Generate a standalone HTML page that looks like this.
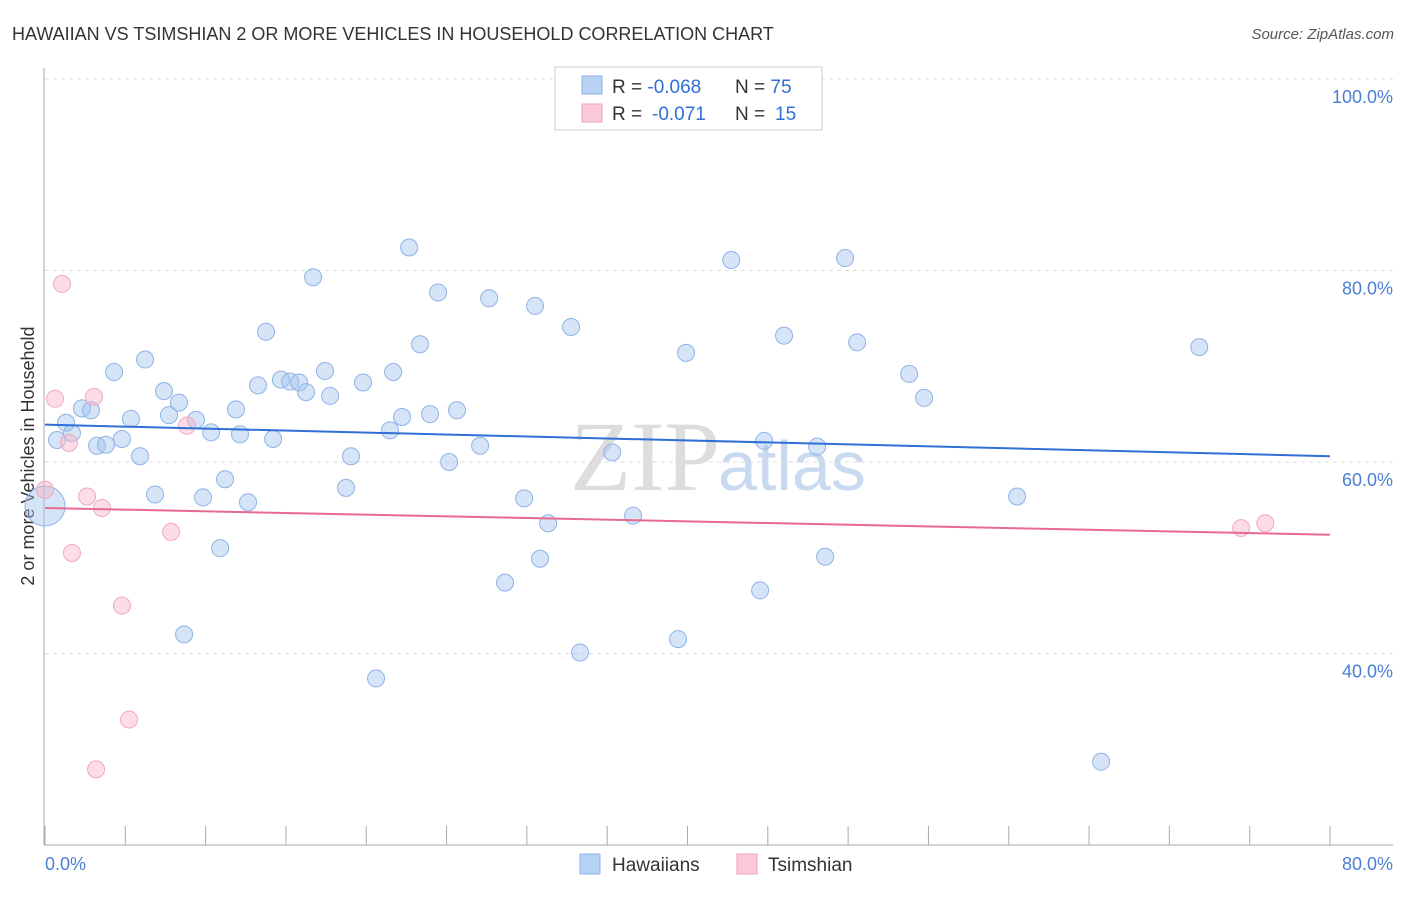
<!DOCTYPE html>
<html><head><meta charset="utf-8"><style>
body{margin:0;background:#fff;font-family:"Liberation Sans",sans-serif}
</style></head><body>
<svg width="1406" height="892" xmlns="http://www.w3.org/2000/svg" style="font-family:'Liberation Sans',sans-serif">
<text x="12" y="40" font-size="18" fill="#333">HAWAIIAN VS TSIMSHIAN 2 OR MORE VEHICLES IN HOUSEHOLD CORRELATION CHART</text>
<text x="1394" y="39" font-size="15" fill="#555" font-style="italic" text-anchor="end">Source: ZipAtlas.com</text>
<text x="720" y="490" font-size="100" fill="#ddd" text-anchor="end" font-family="'Liberation Serif',serif">ZIP</text>
<text x="718" y="490" font-size="70" fill="#c9d9f0">atlas</text>
<g id="grid"></g>
<line x1="44" y1="68" x2="44" y2="845" stroke="#aaa"/>
<line x1="44" y1="845" x2="1393" y2="845" stroke="#aaa"/>
<text transform="translate(34,456) rotate(-90)" font-size="18" fill="#333" text-anchor="middle">2 or more Vehicles in Household</text>
<g id="marks"></g>
<g>
<rect x="555" y="67" width="267" height="63" fill="#fff" stroke="#ccc"/>
<rect x="582" y="76" width="20" height="18" fill="#b8d2f5" stroke="#8fb3e6"/>
<rect x="582" y="104" width="20" height="18" fill="#fbcad8" stroke="#f0a0b8"/>
<text x="612" y="93" font-size="19" fill="#333">R = <tspan fill="#2f6fd6">-0.068</tspan><tspan x="735">N = </tspan><tspan fill="#2f6fd6">75</tspan></text>
<text x="612" y="120" font-size="19" fill="#333">R = <tspan x="652" fill="#2f6fd6">-0.071</tspan><tspan x="735">N = </tspan><tspan x="775" fill="#2f6fd6">15</tspan></text>
</g>
<g>
<rect x="580" y="854" width="20" height="20" fill="#b8d2f5" stroke="#8fb3e6"/>
<text x="612" y="871" font-size="19" fill="#333">Hawaiians</text>
<rect x="737" y="854" width="20" height="20" fill="#fbcad8" stroke="#f0a0b8"/>
<text x="768" y="871" font-size="19" fill="#333">Tsimshian</text>
</g>
</svg>
<script>
const yTicks=[40,60,80,100];
const xTickVals=[0,10,20,30,40,50,60,70,80];
const hawX=[0.75,1.31,1.68,2.30,2.86,3.24,3.80,4.30,4.79,5.35,5.92,6.23,6.85,7.41,7.72,8.34,8.66,9.40,9.84,10.34,10.90,11.21,11.89,12.14,12.64,13.26,13.76,14.20,14.69,15.26,15.82,16.25,16.69,17.43,17.75,18.74,19.05,19.80,20.61,21.48,21.67,22.23,22.67,23.35,23.97,24.47,25.16,25.65,27.09,27.65,28.64,29.83,30.51,30.82,31.32,32.75,33.31,35.31,36.61,39.41,39.91,42.72,44.52,44.77,46.01,48.07,48.57,49.81,50.56,53.80,54.73,60.52,65.75,71.86,0];
const hawY=[62.3,64.1,63.0,65.6,65.4,61.7,61.8,69.4,62.4,64.5,60.6,70.7,56.6,67.4,64.9,66.2,42.0,64.4,56.3,63.1,51.0,58.2,65.5,62.9,55.8,68.0,73.6,62.4,68.6,68.4,68.3,67.3,79.3,69.5,66.9,57.3,60.6,68.3,37.4,63.3,69.4,64.7,82.4,72.3,65.0,77.7,60.0,65.4,61.7,77.1,47.4,56.2,76.3,49.9,53.6,74.1,40.1,61.0,54.4,41.5,71.4,81.1,46.6,62.2,73.2,61.6,50.1,81.3,72.5,69.2,66.7,56.4,28.7,72.0,55.4];
const tsiX=[0,0.62,1.06,1.49,1.68,2.62,3.05,3.55,4.79,5.23,3.18,7.85,8.84,74.47,75.97];
const tsiY=[57.1,66.6,78.6,62.0,50.5,56.4,66.8,55.2,45.0,33.1,27.9,52.7,63.8,53.1,53.6];
const hawTrend=[63.9,60.6];
const tsiTrend=[55.2,52.4];
const NS="http://www.w3.org/2000/svg";
const sx=v=>45+v*(1285/80);
const sy=v=>79+(100-v)*9.575;
const grid=document.getElementById('grid'),marks=document.getElementById('marks');
function mk(tag,attrs,parent){const e=document.createElementNS(NS,tag);for(const k in attrs)e.setAttribute(k,attrs[k]);parent.appendChild(e);return e;}
yTicks.forEach(t=>{
 const l=mk('line',{x1:45,x2:1393,y1:sy(t),y2:sy(t),stroke:'#ddd','stroke-dasharray':'4,4'},grid);
 
 
 const tx=mk('text',{x:1393,y:sy(t)+24,'font-size':18,fill:'#4a7fd4','text-anchor':'end'},grid);
 tx.textContent=t.toFixed(1)+'%';
 
 
});
xTickVals.forEach(t=>{
 const l=mk('line',{x1:sx(t),x2:sx(t),y1:826,y2:845,stroke:'#aaa'},grid);
 
 
 const l2=mk('line',{x1:sx(t+5),x2:sx(t+5),y1:826,y2:845,stroke:'#aaa'},grid);
 
 
});
[[0,'start',45],[80,'end',1393]].forEach(([v,a,x])=>{
 const tx=mk('text',{x:x,y:870,'font-size':18,fill:'#4a7fd4','text-anchor':a},grid);
 tx.textContent=v.toFixed(1)+'%';
 
 
});
hawX.forEach((x,i)=>{
 const c=mk('circle',{cx:sx(x),cy:sy(hawY[i]),r:i==hawX.length-1?20:8.5,fill:'rgba(164,196,240,0.45)',stroke:'#8fb3e6','stroke-width':1},marks);
 
 
});
tsiX.forEach((x,i)=>{
 const c=mk('circle',{cx:sx(x),cy:sy(tsiY[i]),r:8.5,fill:'rgba(248,180,200,0.45)',stroke:'#f0a8c0','stroke-width':1},marks);
 
 
});
const l1=mk('line',{x1:sx(0),x2:sx(80),y1:sy(hawTrend[0]),y2:sy(hawTrend[1]),stroke:'#2f6fd6','stroke-width':2},marks);


const l2=mk('line',{x1:sx(0),x2:sx(80),y1:sy(tsiTrend[0]),y2:sy(tsiTrend[1]),stroke:'#e86a92','stroke-width':2},marks);


</script>
</body></html>
